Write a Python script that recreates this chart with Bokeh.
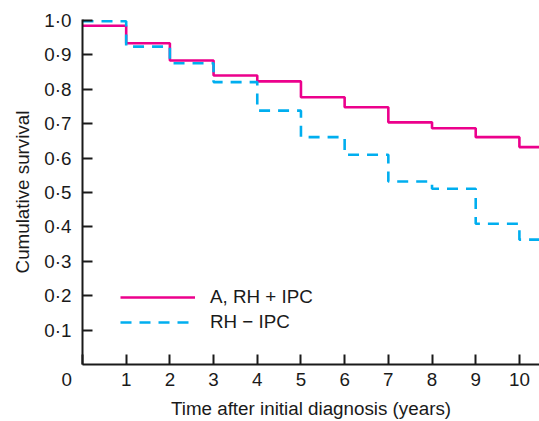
from bokeh.plotting import figure
from bokeh.models import Range1d, FixedTicker, Legend, LegendItem
from bokeh.embed import file_html
from bokeh.resources import INLINE

# Data (Kaplan-Meier style step curves)
years = [0, 1, 2, 3, 4, 5, 6, 7, 8, 9, 10, 10.6]
surv_ipc = [0.985, 0.934, 0.884, 0.840, 0.823, 0.777, 0.748, 0.704, 0.687, 0.661, 0.632, 0.632]
surv_no_ipc = [0.998, 0.924, 0.876, 0.821, 0.738, 0.661, 0.610, 0.532, 0.511, 0.409, 0.363, 0.363]
series_labels = ["A, RH + IPC", "RH \u2212 IPC"]

x_ticks = [0, 1, 2, 3, 4, 5, 6, 7, 8, 9, 10]
x_tick_labels = ["0" + "\u00a0" * 6, "1", "2", "3", "4", "5", "6", "7", "8", "9", "10"]
y_ticks = [0.1, 0.2, 0.3, 0.4, 0.5, 0.6, 0.7, 0.8, 0.9, 1.0]
y_tick_labels = ["0\u00b71", "0\u00b72", "0\u00b73", "0\u00b74", "0\u00b75",
                 "0\u00b76", "0\u00b77", "0\u00b78", "0\u00b79", "1\u00b70"]

PINK = "#EC008C"
BLUE = "#00AEEF"
FONT = "Liberation Sans"
FS = "18.8px"
INK = "#1a1a1a"

p = figure(width=539, height=421, output_backend="svg", toolbar_location=None,
           x_range=Range1d(0, 10.46), y_range=Range1d(0, 1.003),
           min_border_left=82, min_border_right=0, min_border_top=19, min_border_bottom=57)
p.outline_line_color = None
p.grid.visible = False
p.background_fill_color = "white"
p.border_fill_color = "white"

r1 = p.step(years, surv_ipc, mode="after", line_color=PINK, line_width=2.6)
r2 = p.step(years, surv_no_ipc, mode="after", line_color=BLUE, line_width=2.6, line_dash="11 8")

for ax in (p.xaxis[0], p.yaxis[0]):
    ax.axis_line_width = 2
    ax.axis_line_color = INK
    ax.major_tick_line_width = 2
    ax.major_tick_line_color = INK
    ax.major_tick_in = 10
    ax.major_tick_out = 0
    ax.minor_tick_line_color = None
    ax.major_label_text_font = FONT
    ax.major_label_text_font_size = FS
    ax.major_label_text_color = INK
    ax.axis_label_text_font = FONT
    ax.axis_label_text_font_size = FS
    ax.axis_label_text_font_style = "normal"
    ax.axis_label_text_color = INK

p.xaxis.ticker = FixedTicker(ticks=x_ticks)
p.xaxis.major_label_overrides = {t: l for t, l in zip(x_ticks, x_tick_labels)}
p.xaxis.major_label_standoff = 4
p.xaxis.axis_label = "Time after initial diagnosis (years)"
p.xaxis.axis_label_standoff = 5

p.yaxis.ticker = FixedTicker(ticks=y_ticks)
p.yaxis.major_label_overrides = {t: l for t, l in zip(y_ticks, y_tick_labels)}
p.yaxis.major_label_standoff = 11
p.yaxis.axis_label = "Cumulative survival"
p.yaxis.axis_label_standoff = 8

legend = Legend(items=[LegendItem(label=series_labels[0], renderers=[r1]),
                       LegendItem(label=series_labels[1], renderers=[r2])],
                location=(38, 31), glyph_width=75, glyph_height=22, label_height=22,
                label_standoff=15, spacing=3, padding=0, margin=0,
                border_line_color=None, background_fill_alpha=0,
                label_text_font=FONT, label_text_font_size=FS, label_text_color=INK)
p.add_layout(legend)

open("out.html", "w").write(file_html(p, INLINE))
